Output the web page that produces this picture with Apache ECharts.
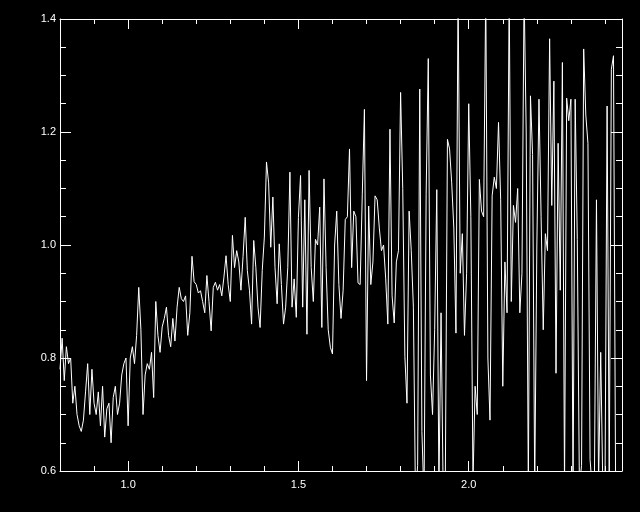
<!DOCTYPE html>
<html>
<head>
<meta charset="utf-8">
<script src="https://cdn.jsdelivr.net/npm/echarts@6/dist/echarts.min.js"></script>
<style>
  html, body { margin: 0; padding: 0; background: #000; }
  #chart { width: 640px; height: 512px; }
</style>
</head>
<body>
<div id="chart"></div>
<script>
// Wavelength grid (start and spacing of the sampled spectrum)
const waveStart = 0.80;
const waveStep = 0.00625;

// Flux values in blocks of 0.1 in wavelength
const flux080 = [0.78, 0.835, 0.76, 0.82, 0.79, 0.80, 0.72, 0.75, 0.70, 0.68, 0.67, 0.69, 0.74, 0.79, 0.70, 0.78];
const flux090 = [0.72, 0.70, 0.74, 0.68, 0.75, 0.66, 0.71, 0.72, 0.65, 0.73, 0.75, 0.70, 0.72, 0.77, 0.79, 0.80];
const flux100 = [0.68, 0.80, 0.82, 0.79, 0.84, 0.925, 0.85, 0.70, 0.77, 0.79, 0.78, 0.81, 0.73, 0.90, 0.84, 0.81];
const flux110 = [0.855, 0.87, 0.89, 0.84, 0.82, 0.87, 0.83, 0.89, 0.925, 0.905, 0.90, 0.91, 0.84, 0.88, 0.98, 0.935];
const flux120 = [0.93, 0.915, 0.919, 0.90, 0.88, 0.946, 0.90, 0.848, 0.925, 0.934, 0.92, 0.93, 0.91, 0.943, 0.981, 0.93];
const flux130 = [0.90, 1.017, 0.96, 0.99, 0.97, 0.92, 0.98, 1.049, 0.955, 0.92, 0.86, 1.008, 0.96, 0.89, 0.854, 0.955];
const flux140 = [1.014, 1.147, 1.11, 0.996, 1.085, 0.96, 0.896, 1.002, 0.93, 0.86, 0.89, 0.96, 1.129, 0.89, 0.94, 0.872];
const flux150 = [1.049, 1.123, 0.89, 1.08, 0.842, 1.132, 0.96, 0.90, 1.01, 1.0, 1.067, 0.854, 1.117, 0.96, 0.85, 0.819];
const flux160 = [0.807, 1.00, 1.06, 0.93, 0.87, 0.92, 1.045, 1.05, 1.17, 0.96, 1.06, 1.05, 0.933, 0.93, 1.09, 1.24];
const flux170 = [0.76, 1.069, 0.93, 0.97, 1.087, 1.08, 1.03, 0.99, 1.0, 0.94, 0.86, 1.205, 0.91, 0.862, 0.97, 0.99];
const flux180 = [1.27, 1.10, 0.803, 0.72, 1.06, 0.99, 0.89, 0.55, 0.61, 1.276, 0.67, 0.55, 1.09, 1.33, 0.77, 0.70];
const flux190 = [0.85, 1.098, 0.57, 0.88, 0.56, 0.58, 1.187, 1.17, 1.11, 1.03, 0.844, 1.45, 0.95, 1.02, 0.84, 0.95];
const flux200 = [1.25, 1.05, 0.58, 0.75, 0.70, 1.116, 1.06, 1.05, 1.45, 0.80, 0.69, 1.087, 1.12, 1.10, 1.217, 1.08];
const flux210 = [0.75, 0.97, 0.88, 1.45, 0.90, 1.07, 1.04, 1.10, 0.88, 0.95, 1.45, 1.20, 0.57, 1.264, 1.16, 0.57];
const flux220 = [1.0, 1.258, 1.05, 0.85, 1.02, 0.99, 1.365, 1.07, 1.29, 0.773, 1.18, 0.92, 1.323, 0.57, 1.26, 1.22];
const flux230 = [1.258, 0.56, 1.258, 1.01, 0.57, 0.61, 1.347, 1.23, 1.18, 0.62, 0.57, 0.56, 1.08, 0.58, 0.81, 0.57];
const flux240 = [0.56, 1.246, 0.58, 1.311, 1.335, 0.57];

// Tick positions and labels
const xMinorTicks = [0.8, 0.9, 1.0, 1.1, 1.2, 1.3, 1.4, 1.5, 1.6, 1.7, 1.8, 1.9, 2.0, 2.1, 2.2, 2.3, 2.4];
const xMajorTicks = [1.0, 1.5, 2.0];
const yMinorTicks = [0.6, 0.65, 0.7, 0.75, 0.8, 0.85, 0.9, 0.95, 1.0, 1.05, 1.1, 1.15, 1.2, 1.25, 1.3, 1.35, 1.4];
const yMajorTicks = [0.6, 0.8, 1.0, 1.2, 1.4];

const flux = [].concat(flux080, flux090, flux100, flux110, flux120, flux130, flux140, flux150,
  flux160, flux170, flux180, flux190, flux200, flux210, flux220, flux230, flux240);
const seriesData = flux.map((v, i) => [waveStart + i * waveStep, v]);

const X_MIN = 0.8, X_MAX = 2.45, Y_MIN = 0.6, Y_MAX = 1.4;
const white = '#ffffff';
const font = { color: white, fontSize: 11, fontFamily: 'Liberation Sans' };

function xAx(pos, ticks, len, withLabels, showLine) {
  return {
    type: 'value', position: pos, min: X_MIN, max: X_MAX,
    axisLine: { show: showLine, onZero: false, lineStyle: { color: white, width: 1 } },
    axisTick: { show: true, inside: true, length: len, customValues: ticks, lineStyle: { color: white, width: 1 } },
    axisLabel: withLabels
      ? Object.assign({ show: true, customValues: xMajorTicks, margin: 8, formatter: v => Number(v).toFixed(1) }, font)
      : { show: false },
    splitLine: { show: false }
  };
}
function yAx(pos, ticks, len, withLabels, showLine) {
  return {
    type: 'value', position: pos, min: Y_MIN, max: Y_MAX,
    axisLine: { show: showLine, onZero: false, lineStyle: { color: white, width: 1 } },
    axisTick: { show: true, inside: true, length: len, customValues: ticks, lineStyle: { color: white, width: 1 } },
    axisLabel: withLabels
      ? Object.assign({ show: true, customValues: yMajorTicks, margin: 4, formatter: v => Number(v).toFixed(1) }, font)
      : { show: false },
    splitLine: { show: false }
  };
}

const chart = echarts.init(document.getElementById('chart'), null, { renderer: 'canvas' });
chart.setOption({
  backgroundColor: '#000000',
  animation: false,
  grid: { left: 60, right: 18, top: 19, bottom: 41, containLabel: false },
  xAxis: [
    xAx('bottom', xMinorTicks, 5, true, true),
    xAx('bottom', xMajorTicks, 10, false, false),
    xAx('top', xMinorTicks, 5, false, true),
    xAx('top', xMajorTicks, 10, false, false)
  ],
  yAxis: [
    yAx('left', yMinorTicks, 6, true, true),
    yAx('left', yMajorTicks, 11, false, false),
    yAx('right', yMinorTicks, 6, false, true),
    yAx('right', yMajorTicks, 11, false, false)
  ],
  series: [{
    type: 'line',
    xAxisIndex: 0, yAxisIndex: 0,
    data: seriesData,
    showSymbol: false,
    symbol: 'none',
    clip: true,
    lineStyle: { color: white, width: 1 }
  }]
});
</script>
</body>
</html>
